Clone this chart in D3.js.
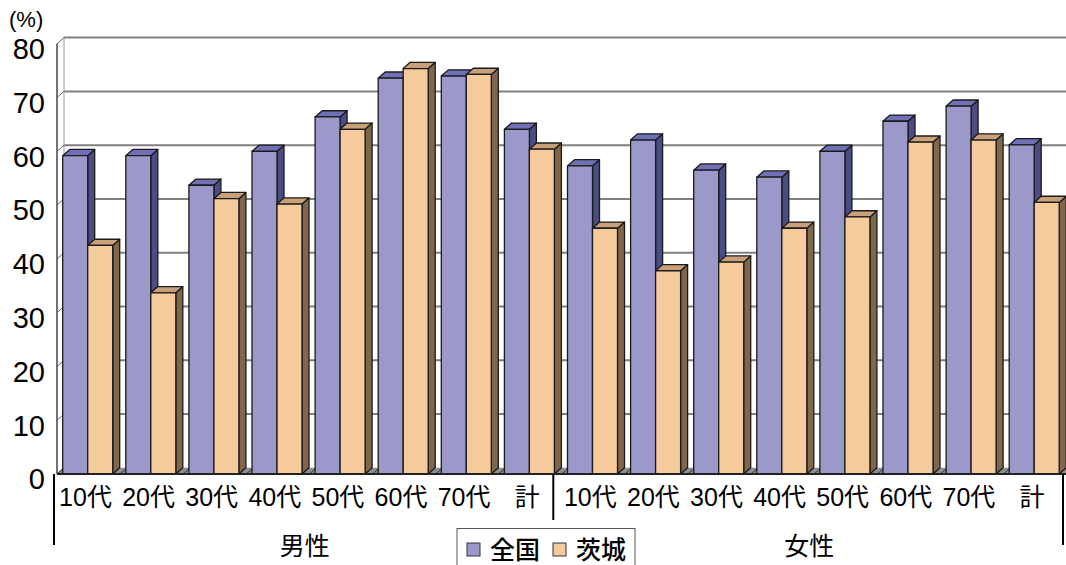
<!DOCTYPE html>
<html>
<head>
<meta charset="utf-8">
<script src="https://cdn.jsdelivr.net/npm/d3@7/dist/d3.min.js"></script>
<style>
  html, body { margin: 0; padding: 0; background: #fff; }
  svg { display: block; }
</style>
</head>
<body>
<svg id="chart" width="1066" height="565"></svg>
<script>
// Age bands, repeated for each sex group
const ageLabels = ["10代", "20代", "30代", "40代", "50代", "60代", "70代", "計"];
const groups = ["男性", "女性"];
const seriesNames = ["全国", "茨城"];

// Values (%) per group, in age-band order
const zenkokuMale   = [59.2, 59.2, 53.7, 60.0, 66.4, 73.6, 74.0, 64.1];
const ibarakiMale   = [42.5, 33.7, 51.2, 50.2, 64.1, 75.4, 74.3, 60.4];
const zenkokuFemale = [57.3, 62.1, 56.5, 55.2, 60.0, 65.6, 68.4, 61.2];
const ibarakiFemale = [45.7, 37.8, 39.4, 45.7, 47.8, 61.7, 62.1, 50.5];

const yTicks = [0, 10, 20, 30, 40, 50, 60, 70, 80];

// Flat table of categories built from the arrays above
const cats = [];
groups.forEach((g, gi) => {
  const z = gi === 0 ? zenkokuMale : zenkokuFemale;
  const b = gi === 0 ? ibarakiMale : ibarakiFemale;
  ageLabels.forEach((a, ai) => cats.push({ group: g, label: a, values: [z[ai], b[ai]] }));
});

const W = 1066, H = 565;
const svg = d3.select("#chart");

const x = d3.scaleBand().domain(d3.range(cats.length)).range([57, 57 + cats.length * 63.1]);
const y = d3.scaleLinear().domain([0, 80]).range([474, 43.8]);

// 3D depth offset of the wall / bar tops
const DX = 7, DY = 6.2;
const barW = 25, barInset = 5.7;

const colors = [
  { front: "#9b99c9", top: "#7070b6", side: "#4c4c85" },
  { front: "#f6cb9b", top: "#c8a07a", side: "#80664a" }
];

const FONT_LATIN = "'Liberation Sans', Arial, 'Noto Sans CJK JP', sans-serif";
const FONT_CJK = "'Noto Sans CJK JP', 'Liberation Sans', sans-serif";

// Back wall grid
const wall = svg.append("g");
wall.selectAll("line.grid")
  .data(yTicks.filter(t => t > 0))
  .join("line")
  .attr("x1", x.range()[0] + DX).attr("x2", W + 10)
  .attr("y1", d => y(d) - DY).attr("y2", d => y(d) - DY)
  .attr("stroke", "#808080").attr("stroke-width", 2);
wall.append("line")
  .attr("x1", x.range()[0] + DX).attr("x2", x.range()[0] + DX)
  .attr("y1", y(80) - DY).attr("y2", y(0) - DY)
  .attr("stroke", "#9a9a9a").attr("stroke-width", 1);

// Side wall: diagonal tick connectors
wall.selectAll("line.tick")
  .data(yTicks)
  .join("line")
  .attr("x1", x.range()[0]).attr("x2", x.range()[0] + DX)
  .attr("y1", d => y(d)).attr("y2", d => y(d) - DY)
  .attr("stroke", "#666").attr("stroke-width", 1);

// Floor
const fx0 = x.range()[0], fx1 = x.range()[1];
wall.append("path")
  .attr("d", `M${fx0},${y(0)} L${fx0 + DX},${y(0) - DY} L${fx1 + DX},${y(0) - DY} L${fx1},${y(0)} Z`)
  .attr("fill", "#8e8e8e");
wall.selectAll("line.floorTick")
  .data(d3.range(cats.length + 1))
  .join("line")
  .attr("x1", i => x.range()[0] + i * x.step()).attr("x2", i => x.range()[0] + i * x.step() + DX)
  .attr("y1", y(0)).attr("y2", y(0) - DY)
  .attr("stroke", "#333").attr("stroke-width", 1);

// Front vertical axis line
svg.append("line")
  .attr("x1", x.range()[0]).attr("x2", x.range()[0])
  .attr("y1", y(80)).attr("y2", y(0))
  .attr("stroke", "#444").attr("stroke-width", 1.5);

// Bars (front face, top face, side face)
const bars = svg.append("g");
cats.forEach((c, i) => {
  c.values.forEach((v, s) => {
    const bx = x(i) + barInset + s * barW;
    const by = y(v), b0 = y(0);
    const col = colors[s];
    const g = bars.append("g").attr("stroke", "#1a1a1a").attr("stroke-width", 1.3).attr("stroke-linejoin", "round");
    g.append("path")
      .attr("d", `M${bx + barW},${by} L${bx + barW + DX},${by - DY} L${bx + barW + DX},${b0 - DY} L${bx + barW},${b0} Z`)
      .attr("fill", col.side);
    g.append("path")
      .attr("d", `M${bx},${by} L${bx + DX},${by - DY} L${bx + barW + DX},${by - DY} L${bx + barW},${by} Z`)
      .attr("fill", col.top);
    g.append("rect")
      .attr("x", bx).attr("y", by).attr("width", barW).attr("height", b0 - by)
      .attr("fill", col.front);
  });
});

// Category baseline
svg.append("line")
  .attr("x1", x.range()[0]).attr("x2", W)
  .attr("y1", y(0)).attr("y2", y(0))
  .attr("stroke", "#222").attr("stroke-width", 2);

// Y axis labels
svg.append("g").selectAll("text")
  .data(yTicks)
  .join("text")
  .attr("x", 45).attr("y", d => y(d) + 15.3)
  .attr("text-anchor", "end")
  .attr("font-family", FONT_LATIN).attr("font-size", 29)
  .attr("fill", "#000")
  .text(d => d);

svg.append("text")
  .attr("x", 9).attr("y", 27)
  .attr("font-family", FONT_LATIN).attr("font-size", 22)
  .attr("fill", "#000")
  .text("(%)");

// Category labels
svg.append("g").selectAll("text")
  .data(cats)
  .join("text")
  .attr("x", (d, i) => x(i) + 28.5)
  .attr("y", 505.5)
  .attr("text-anchor", "middle")
  .attr("font-family", FONT_LATIN).attr("font-size", 25)
  .attr("fill", "#000")
  .text(d => d.label);

// Group separators and group labels
const n = ageLabels.length;
const sepX = [x(0) - 3, x(n) - 8.5, x.range()[1] - 3.6];
const sepBottom = [545, 520, 545];
svg.append("g").selectAll("line")
  .data(sepX)
  .join("line")
  .attr("x1", d => d).attr("x2", d => d)
  .attr("y1", y(0)).attr("y2", (d, i) => sepBottom[i])
  .attr("stroke", "#000").attr("stroke-width", 2);

svg.append("g").selectAll("text")
  .data(groups)
  .join("text")
  .attr("x", (d, i) => (sepX[i] + sepX[i + 1]) / 2 + 1)
  .attr("y", 554.5)
  .attr("text-anchor", "middle")
  .attr("font-family", FONT_CJK).attr("font-size", 25)
  .attr("fill", "#000")
  .text(d => d);

// Legend
const legend = svg.append("g");
legend.append("rect")
  .attr("x", 457).attr("y", 528.5).attr("width", 178).attr("height", 50)
  .attr("fill", "#fff").attr("stroke", "#555").attr("stroke-width", 1);
const legendX = [467, 553];
seriesNames.forEach((name, s) => {
  legend.append("rect")
    .attr("x", legendX[s]).attr("y", 543).attr("width", 13).attr("height", 13)
    .attr("fill", colors[s].front).attr("stroke", "#333").attr("stroke-width", 1);
  legend.append("text")
    .attr("x", legendX[s] + 23).attr("y", 558.5)
    .attr("font-family", FONT_CJK).attr("font-size", 25).attr("font-weight", 500)
    .attr("fill", "#000")
    .text(name);
});
</script>
</body>
</html>
